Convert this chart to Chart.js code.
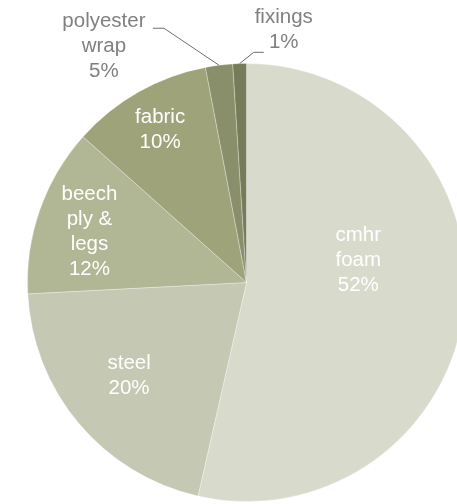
<!DOCTYPE html>
<html>
<head>
<meta charset="utf-8">
<script src="https://cdn.jsdelivr.net/npm/chart.js@4/dist/chart.umd.min.js"></script>
<style>
  html, body { margin: 0; padding: 0; background: #fff; overflow: hidden; }
  #wrap { width: 466px; height: 504px; position: relative; }
</style>
</head>
<body>
<div id="wrap"><canvas id="pie"></canvas></div>
<script>
// materials, clockwise from 12 o'clock
var categories = [['cmhr', 'foam'], ['steel'], ['beech', 'ply &', 'legs'], ['fabric'], ['polyester', 'wrap'], ['fixings']];
var shares = [53.5, 20.6, 12.4, 10.4, 2.0, 1.0];
var pctLabels = ['52%', '20%', '12%', '10%', '5%', '1%'];
var colours = ['#d8dacc', '#c5c8b3', '#b1b695', '#9ea37a', '#8a8f6b', '#767b58'];

// label placement: radius fraction and angle shift (deg) from slice middle
var labelPlace = [
  { r: 0.52, da: -17.4 },
  { r: 0.685, da: 1.6 },
  { r: 0.753, da: -1.6 },
  { r: 0.80, da: 0 },
  { r: 1.26, da: -23.9, out: true, leader: [[60, -18], [49, -18]] },
  { r: 1.164, da: 10.2, out: true, leader: [[-30, 22], [-20, 22]] }
];

var pieLabels = {
  id: 'pieLabels',
  afterDatasetsDraw: function (chart) {
    var ctx = chart.ctx;
    var meta = chart.getDatasetMeta(0);
    ctx.save();
    ctx.font = '20.5px "Liberation Sans", Arial, sans-serif';
    ctx.textAlign = 'center';
    ctx.textBaseline = 'middle';
    meta.data.forEach(function (arc, i) {
      var p = arc.getProps(['x', 'y', 'startAngle', 'endAngle', 'outerRadius'], true);
      var mid = (p.startAngle + p.endAngle) / 2;
      var place = labelPlace[i];
      var a = mid + place.da * Math.PI / 180;
      var cx = p.x + Math.cos(a) * p.outerRadius * place.r;
      var cy = p.y + Math.sin(a) * p.outerRadius * place.r;
      var lines = categories[i].concat([pctLabels[i]]);
      var lh = 25;
      var top = cy - (lines.length - 1) * lh / 2;
      if (place.out) {
        ctx.strokeStyle = '#6e6e6e';
        ctx.lineWidth = 1;
        ctx.beginPath();
        ctx.moveTo(p.x + Math.cos(mid) * p.outerRadius, p.y + Math.sin(mid) * p.outerRadius);
        ctx.lineTo(cx + place.leader[0][0], cy + place.leader[0][1]);
        ctx.lineTo(cx + place.leader[1][0], cy + place.leader[1][1]);
        ctx.stroke();
        ctx.fillStyle = '#808080';
      } else {
        ctx.fillStyle = '#ffffff';
      }
      lines.forEach(function (t, k) {
        ctx.fillText(t, cx, top + k * lh);
      });
    });
    ctx.restore();
  }
};

new Chart(document.getElementById('pie'), {
  type: 'pie',
  data: {
    labels: categories,
    datasets: [{
      data: shares,
      backgroundColor: colours,
      borderColor: 'rgba(255,255,255,0.3)',
      borderWidth: 1,
      hoverOffset: 0
    }]
  },
  options: {
    responsive: true,
    maintainAspectRatio: false,
    animation: false,
    events: [],
    layout: { padding: { left: 27, right: 0, top: 63, bottom: 2 } },
    plugins: {
      legend: { display: false },
      tooltip: { enabled: false }
    }
  },
  plugins: [pieLabels]
});
</script>
</body>
</html>
